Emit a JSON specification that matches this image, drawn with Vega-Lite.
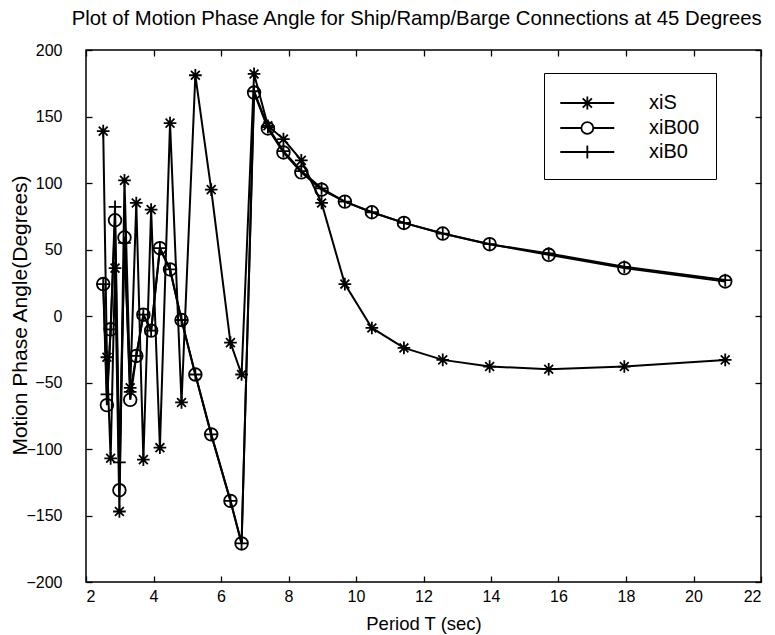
{
  "$schema": "https://vega.github.io/schema/vega-lite/v6.json",
  "width": 675,
  "height": 532,
  "autosize": "none",
  "padding": {"left": 86, "top": 50, "right": 14, "bottom": 53},
  "background": "white",
  "config": {
    "font": "Liberation Sans",
    "view": {"stroke": "black", "strokeWidth": 1.5},
    "axis": {"grid": false, "domain": false, "tickColor": "black", "labelColor": "black", "titleColor": "black", "labelFont": "Liberation Sans", "titleFont": "Liberation Sans", "labelFontSize": 16, "titleFontSize": 18.5, "titleFontWeight": "normal", "tickWidth": 1.3}
  },
  "title": {"text": "Plot of Motion Phase Angle for Ship/Ramp/Barge Connections at 45 Degrees", "fontSize": 20.3, "fontWeight": "normal", "font": "Liberation Sans", "color": "black", "anchor": "end", "offset": 13},
  "data": {"values": [
    {"T": 2.51, "series": "xiS", "phase": 139},
    {"T": 2.62, "series": "xiS", "phase": -31},
    {"T": 2.73, "series": "xiS", "phase": -107},
    {"T": 2.86, "series": "xiS", "phase": 36},
    {"T": 2.99, "series": "xiS", "phase": -147},
    {"T": 3.14, "series": "xiS", "phase": 102},
    {"T": 3.31, "series": "xiS", "phase": -54},
    {"T": 3.49, "series": "xiS", "phase": 85},
    {"T": 3.70, "series": "xiS", "phase": -108},
    {"T": 3.93, "series": "xiS", "phase": 80},
    {"T": 4.19, "series": "xiS", "phase": -99},
    {"T": 4.49, "series": "xiS", "phase": 145},
    {"T": 4.83, "series": "xiS", "phase": -65},
    {"T": 5.24, "series": "xiS", "phase": 181},
    {"T": 5.71, "series": "xiS", "phase": 95},
    {"T": 6.28, "series": "xiS", "phase": -20},
    {"T": 6.61, "series": "xiS", "phase": -44},
    {"T": 6.98, "series": "xiS", "phase": 182},
    {"T": 7.39, "series": "xiS", "phase": 143},
    {"T": 7.85, "series": "xiS", "phase": 133},
    {"T": 8.38, "series": "xiS", "phase": 117},
    {"T": 8.98, "series": "xiS", "phase": 85},
    {"T": 9.67, "series": "xiS", "phase": 24},
    {"T": 10.47, "series": "xiS", "phase": -9},
    {"T": 11.42, "series": "xiS", "phase": -24},
    {"T": 12.57, "series": "xiS", "phase": -33},
    {"T": 13.96, "series": "xiS", "phase": -38},
    {"T": 15.71, "series": "xiS", "phase": -40},
    {"T": 17.95, "series": "xiS", "phase": -38},
    {"T": 20.94, "series": "xiS", "phase": -33},
    {"T": 2.51, "series": "xiB00", "phase": 24},
    {"T": 2.62, "series": "xiB00", "phase": -67},
    {"T": 2.73, "series": "xiB00", "phase": -10},
    {"T": 2.86, "series": "xiB00", "phase": 72},
    {"T": 2.99, "series": "xiB00", "phase": -131},
    {"T": 3.14, "series": "xiB00", "phase": 59},
    {"T": 3.31, "series": "xiB00", "phase": -63},
    {"T": 3.49, "series": "xiB00", "phase": -30},
    {"T": 3.70, "series": "xiB00", "phase": 1},
    {"T": 3.93, "series": "xiB00", "phase": -11},
    {"T": 4.19, "series": "xiB00", "phase": 51},
    {"T": 4.49, "series": "xiB00", "phase": 35},
    {"T": 4.83, "series": "xiB00", "phase": -3},
    {"T": 5.24, "series": "xiB00", "phase": -44},
    {"T": 5.71, "series": "xiB00", "phase": -89},
    {"T": 6.28, "series": "xiB00", "phase": -139},
    {"T": 6.61, "series": "xiB00", "phase": -171},
    {"T": 6.98, "series": "xiB00", "phase": 168},
    {"T": 7.39, "series": "xiB00", "phase": 141},
    {"T": 7.85, "series": "xiB00", "phase": 123},
    {"T": 8.38, "series": "xiB00", "phase": 108},
    {"T": 8.98, "series": "xiB00", "phase": 95},
    {"T": 9.67, "series": "xiB00", "phase": 86},
    {"T": 10.47, "series": "xiB00", "phase": 78},
    {"T": 11.42, "series": "xiB00", "phase": 70},
    {"T": 12.57, "series": "xiB00", "phase": 62},
    {"T": 13.96, "series": "xiB00", "phase": 54},
    {"T": 15.71, "series": "xiB00", "phase": 46},
    {"T": 17.95, "series": "xiB00", "phase": 36},
    {"T": 20.94, "series": "xiB00", "phase": 26},
    {"T": 2.51, "series": "xiB0", "phase": 24},
    {"T": 2.62, "series": "xiB0", "phase": -59},
    {"T": 2.73, "series": "xiB0", "phase": -10},
    {"T": 2.86, "series": "xiB0", "phase": 82},
    {"T": 2.99, "series": "xiB0", "phase": -110},
    {"T": 3.14, "series": "xiB0", "phase": 55},
    {"T": 3.31, "series": "xiB0", "phase": -57},
    {"T": 3.49, "series": "xiB0", "phase": -30},
    {"T": 3.70, "series": "xiB0", "phase": 1},
    {"T": 3.93, "series": "xiB0", "phase": -11},
    {"T": 4.19, "series": "xiB0", "phase": 51},
    {"T": 4.49, "series": "xiB0", "phase": 35},
    {"T": 4.83, "series": "xiB0", "phase": -3},
    {"T": 5.24, "series": "xiB0", "phase": -44},
    {"T": 5.71, "series": "xiB0", "phase": -89},
    {"T": 6.28, "series": "xiB0", "phase": -139},
    {"T": 6.61, "series": "xiB0", "phase": -171},
    {"T": 6.98, "series": "xiB0", "phase": 169},
    {"T": 7.39, "series": "xiB0", "phase": 142},
    {"T": 7.85, "series": "xiB0", "phase": 124},
    {"T": 8.38, "series": "xiB0", "phase": 109},
    {"T": 8.98, "series": "xiB0", "phase": 96},
    {"T": 9.67, "series": "xiB0", "phase": 86},
    {"T": 10.47, "series": "xiB0", "phase": 78},
    {"T": 11.42, "series": "xiB0", "phase": 70},
    {"T": 12.57, "series": "xiB0", "phase": 62},
    {"T": 13.96, "series": "xiB0", "phase": 54},
    {"T": 15.71, "series": "xiB0", "phase": 47},
    {"T": 17.95, "series": "xiB0", "phase": 37},
    {"T": 20.94, "series": "xiB0", "phase": 27}
  ]},
  "layer": [
    {
      "mark": {"type": "line", "color": "black", "strokeWidth": 2},
      "encoding": {
        "x": {"field": "T", "type": "quantitative", "scale": {"domain": [2, 22], "nice": false}, "axis": {"orient": "bottom", "title": "Period T (sec)", "values": [2,4,6,8,10,12,14,16,18,20,22], "tickSize": -6, "labelPadding": 12, "titlePadding": 10}},
        "y": {"field": "phase", "type": "quantitative", "scale": {"domain": [-200, 200], "nice": false}, "axis": {"orient": "left", "title": "Motion Phase Angle(Degrees)", "values": [-200,-150,-100,-50,0,50,100,150,200], "tickSize": -6, "labelPadding": 30, "titleFontSize": 21, "titleX": -66, "titleY": 265, "titleBaseline": "middle"}},
        "detail": {"field": "series"}
      }
    },
    {
      "mark": {"type": "point", "filled": false, "stroke": "black", "strokeWidth": 1.8, "size": 160, "opacity": 1},
      "encoding": {
        "x": {"field": "T", "type": "quantitative", "scale": {"domain": [2, 22], "nice": false}, "axis": {"orient": "top", "title": null, "labels": false, "values": [2,4,6,8,10,12,14,16,18,20,22], "tickSize": -6}},
        "y": {"field": "phase", "type": "quantitative", "scale": {"domain": [-200, 200], "nice": false}, "axis": {"orient": "right", "title": null, "labels": false, "values": [-200,-150,-100,-50,0,50,100,150,200], "tickSize": -6}},
        "shape": {
          "field": "series", "type": "nominal",
          "scale": {"domain": ["xiS", "xiB00", "xiB0"], "range": ["M-1,0H1M0,-1V1M-0.7,-0.7L0.7,0.7M-0.7,0.7L0.7,-0.7", "circle", "M-1,0H1M0,-1V1"]},
          "legend": null
        }
      }
    },
    {
      "transform": [{"filter": "datum.phase > 999"}],
      "mark": {"type": "point", "filled": false, "stroke": "black", "strokeWidth": 1.8, "size": 645, "opacity": 1},
      "encoding": {
        "x": {"field": "T", "type": "quantitative", "axis": null},
        "y": {"field": "phase", "type": "quantitative", "axis": null},
        "shape": {
          "field": "series", "type": "nominal",
          "scale": {"domain": ["xiS", "xiB00", "xiB0"], "range": [
            "M-1.08,0H3.17M0.54,0H1.56M1.05,-0.51V0.51M0.69,-0.36L1.41,0.36M0.69,0.36L1.41,-0.36",
            "M-1.08,0H0.58M1.52,0H3.17M1.52,0A0.47,0.47,0,1,1,0.58,0A0.47,0.47,0,1,1,1.52,0",
            "M-1.08,0H3.17M1.05,-0.51V0.51"
          ]},
          "legend": {
            "title": null,
            "orient": "none",
            "legendX": 458,
            "legendY": 23,
            "padding": 16,
            "strokeColor": "black",
            "fillColor": "white",
            "symbolSize": 645,
            "symbolStrokeColor": "black",
            "symbolStrokeWidth": 1.8,
            "symbolFillColor": "transparent",
            "symbolOpacity": 1,
            "labelFont": "Liberation Sans",
            "labelFontSize": 20,
            "labelColor": "black",
            "labelOffset": 61,
            "rowPadding": 0
          }
        }
      }
    }
  ],
  "resolve": {"axis": {"x": "independent", "y": "independent"}, "scale": {"shape": "independent"}, "legend": {"shape": "independent"}}
}
